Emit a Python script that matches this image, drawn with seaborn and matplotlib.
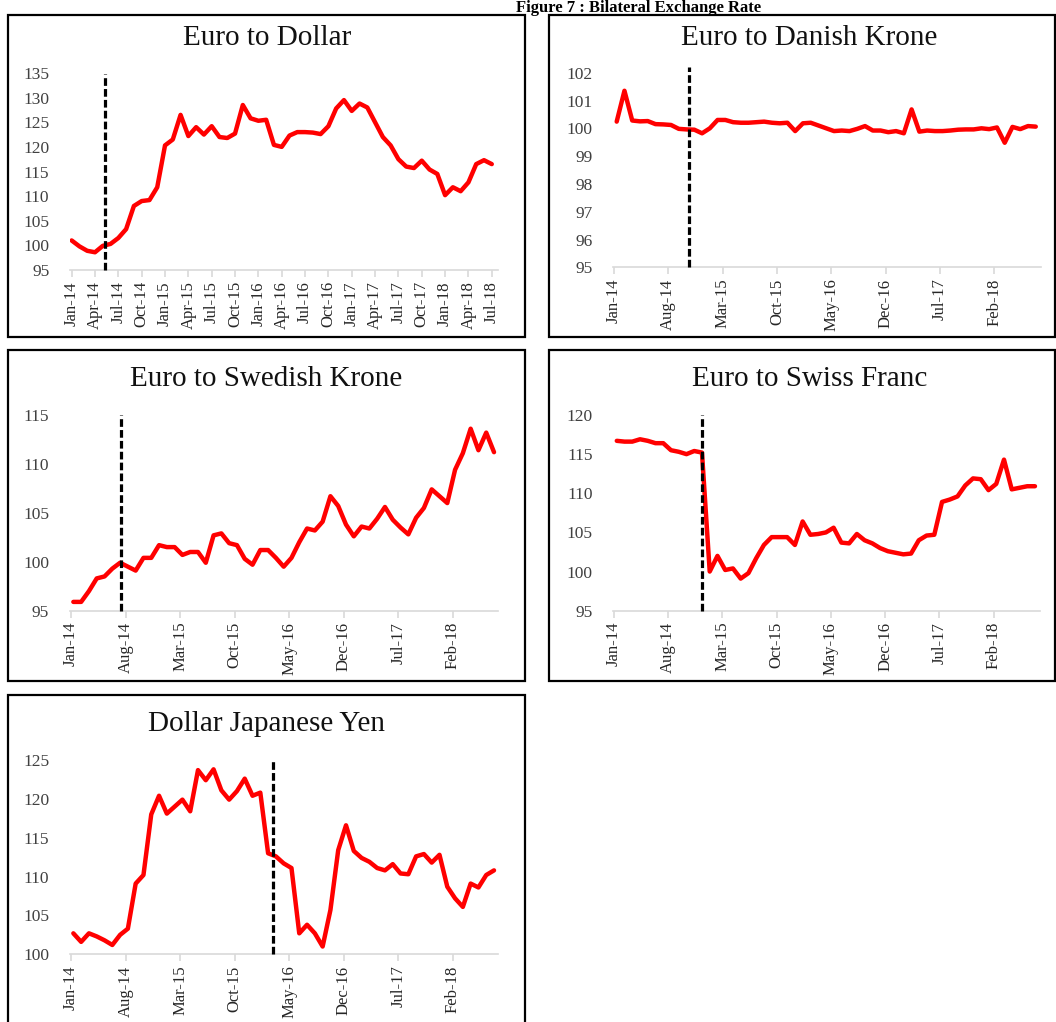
import numpy as np
import pandas as pd
import matplotlib
matplotlib.use("Agg")
import matplotlib.pyplot as plt
from matplotlib.patches import Rectangle
import seaborn as sns

sns.set_style("white")
plt.rcParams["font.family"] = ["Liberation Serif", "DejaVu Serif"]

# ---------------- data (monthly, Jan-14 .. Jul-18) ----------------
months = pd.date_range("2014-01-01", periods=55, freq="MS")

euro_usd = [101.0, 99.8, 98.9, 98.6, 99.9, 100.3, 101.5, 103.3, 108.0, 109.0,
            109.2, 111.8, 120.3, 121.5, 126.5, 122.2, 124.0, 122.5, 124.2, 122.0,
            121.8, 122.7, 128.5, 125.8, 125.3, 125.5, 120.4, 120.0, 122.3, 123.0,
            123.0, 122.9, 122.6, 124.2, 127.8, 129.5, 127.3, 128.8, 128.0, 125.0,
            122.0, 120.3, 117.5, 116.0, 115.7, 117.2, 115.4, 114.5, 110.2, 111.8,
            111.0, 112.8, 116.5, 117.3, 116.5]

euro_dkk = [100.24, 101.35, 100.28, 100.25, 100.26, 100.15, 100.14, 100.12, 99.98, 99.96,
            99.95, 99.82, 100.0, 100.3, 100.3, 100.22, 100.2, 100.2, 100.22, 100.24,
            100.2, 100.18, 100.2, 99.9, 100.18, 100.2, 100.1, 100.0, 99.9, 99.92,
            99.9, 99.98, 100.08, 99.92, 99.92, 99.86, 99.9, 99.82, 100.68, 99.88,
            99.92, 99.9, 99.9, 99.92, 99.95, 99.96, 99.96, 100.0, 99.97, 100.03,
            99.48, 100.05, 99.97, 100.08, 100.06]

euro_sek = [95.9, 95.9, 97.0, 98.3, 98.5, 99.3, 99.9, 99.5, 99.1, 100.4,
            100.4, 101.7, 101.5, 101.5, 100.7, 101.0, 101.0, 99.9, 102.7, 102.9,
            101.9, 101.7, 100.3, 99.7, 101.2, 101.2, 100.4, 99.5, 100.4, 102.0,
            103.4, 103.2, 104.1, 106.7, 105.7, 103.8, 102.6, 103.6, 103.4, 104.4,
            105.6, 104.3, 103.5, 102.8, 104.5, 105.5, 107.4, 106.7, 106.0, 109.4,
            111.1, 113.6, 111.4, 113.2, 111.2]

euro_chf = [116.7, 116.6, 116.6, 116.9, 116.7, 116.4, 116.4, 115.5, 115.3, 115.0,
            115.4, 115.2, 100.0, 102.0, 100.2, 100.4, 99.1, 99.8, 101.7, 103.4,
            104.4, 104.4, 104.4, 103.4, 106.4, 104.7, 104.8, 105.0, 105.6, 103.7,
            103.6, 104.8, 104.0, 103.6, 103.0, 102.6, 102.4, 102.2, 102.3, 104.0,
            104.6, 104.7, 108.9, 109.2, 109.6, 111.0, 111.9, 111.8, 110.4, 111.2,
            114.3, 110.5, 110.7, 110.9, 110.9]

usd_jpy = [102.7, 101.6, 102.7, 102.3, 101.8, 101.2, 102.5, 103.3, 109.1, 110.2,
           118.0, 120.4, 118.1, 119.0, 119.9, 118.4, 123.7, 122.4, 123.8, 121.1,
           119.9, 121.0, 122.6, 120.4, 120.8, 113.0, 112.6, 111.7, 111.1, 102.7,
           103.8, 102.7, 101.0, 105.7, 113.4, 116.6, 113.3, 112.4, 111.9, 111.1,
           110.8, 111.6, 110.4, 110.3, 112.6, 112.9, 111.8, 112.8, 108.7, 107.2,
           106.1, 109.1, 108.6, 110.2, 110.8]

titles = ["Euro to Dollar", "Euro to Danish Krone", "Euro to Swedish Krone",
          "Euro to Swiss Franc", "Dollar Japanese Yen"]
series = [euro_usd, euro_dkk, euro_sek, euro_chf, usd_jpy]

# vertical event markers (month position, y start, y end)
event_pos = [4.28, 9.7, 6.42, 11.33, 25.97]
event_y = [(95, 134.7), (95, 102.2), (95, 115), (95, 120), (100, 125.1)]

y_ranges = [(95, 135, 5), (95, 102, 1), (95, 115, 5), (95, 120, 5), (100, 125, 5)]
tick_step = [3, 7, 7, 7, 7]

# ---------------- layout (pixels) ----------------
W, H = 1056, 1022
fig = plt.figure(figsize=(W / 100, H / 100), dpi=100)
fig.patch.set_facecolor("white")


def rect(l, t, r, b):
    return [l / W, 1 - b / H, (r - l) / W, (b - t) / H]


axes_px = [(70.1, 73, 498, 270), (613.2, 72.7, 1040.8, 267.3),
           (70, 415, 498.3, 610.7), (613.3, 415, 1040, 610.7),
           (70, 760, 498.3, 954.3)]
xlims = [(-0.2, 54.8), (-0.1, 55.0), (-0.13, 54.85), (-0.1, 55.0), (-0.13, 54.85)]
offsets = [0.0, 0.35, 0.3, 0.35, 0.3]
boxes = [(8, 15, 525, 337), (549, 15, 1055, 337), (8, 350, 525, 681),
         (549, 350, 1055, 681), (8, 695, 525, 1024)]
title_pos = [(267, 45), (809, 45), (266, 386), (810, 386), (266, 731)]

for (l, t, r, b) in boxes:
    fig.patches.append(Rectangle((l / W, 1 - b / H), (r - l) / W, (b - t) / H,
                                 transform=fig.transFigure, fill=False,
                                 edgecolor="black", linewidth=1.6, zorder=0))

labels = [m.strftime("%b-%y") for m in months]
for i in range(5):
    ax = fig.add_axes(rect(*axes_px[i]))
    ax.set_facecolor("none")
    x = np.arange(len(months)) + offsets[i]
    df = pd.DataFrame({"x": x, "v": series[i]})
    sns.lineplot(data=df, x="x", y="v", ax=ax, color="#ff0000", linewidth=3.2,
                 solid_joinstyle="round", solid_capstyle="round")
    ax.plot([event_pos[i], event_pos[i]], list(event_y[i]), color="black",
            linewidth=2.3, linestyle=(0, (2.4, 1.0)), clip_on=False, zorder=3)
    y0, y1, ys = y_ranges[i]
    ax.set_ylim(y0, y1)
    ax.set_xlim(*xlims[i])
    ax.set_yticks(np.arange(y0, y1 + 0.01, ys))
    ax.set_yticklabels([f"{v:g}" for v in np.arange(y0, y1 + 0.01, ys)])
    tk = np.arange(0, len(months), tick_step[i])
    ax.set_xticks(tk)
    ax.set_xticklabels([labels[k] for k in tk])
    ax.set_xlabel("")
    ax.set_ylabel("")
    for s in ["top", "right", "left"]:
        ax.spines[s].set_visible(False)
    ax.spines["bottom"].set_color("#d9d9d9")
    ax.spines["bottom"].set_linewidth(1.2)
    ax.tick_params(axis="x", length=5, width=1.2, color="#d9d9d9", direction="out",
                   pad=3, labelsize=12, labelcolor="#262626", rotation=90, bottom=True)
    ax.tick_params(axis="y", length=0, pad=15, labelsize=12.5, labelcolor="#404040")
    ax.grid(False)
    tx, ty = title_pos[i]
    fig.text(tx / W, 1 - ty / H, titles[i], ha="center", va="baseline",
             fontsize=21, color="#111111")

fig.text(639 / W, 1 - 12 / H, "Figure 7 : Bilateral Exchange Rate", ha="center",
         va="baseline", fontsize=12, fontweight="bold", color="black")

fig.savefig("out.png", dpi=100, facecolor="white")
